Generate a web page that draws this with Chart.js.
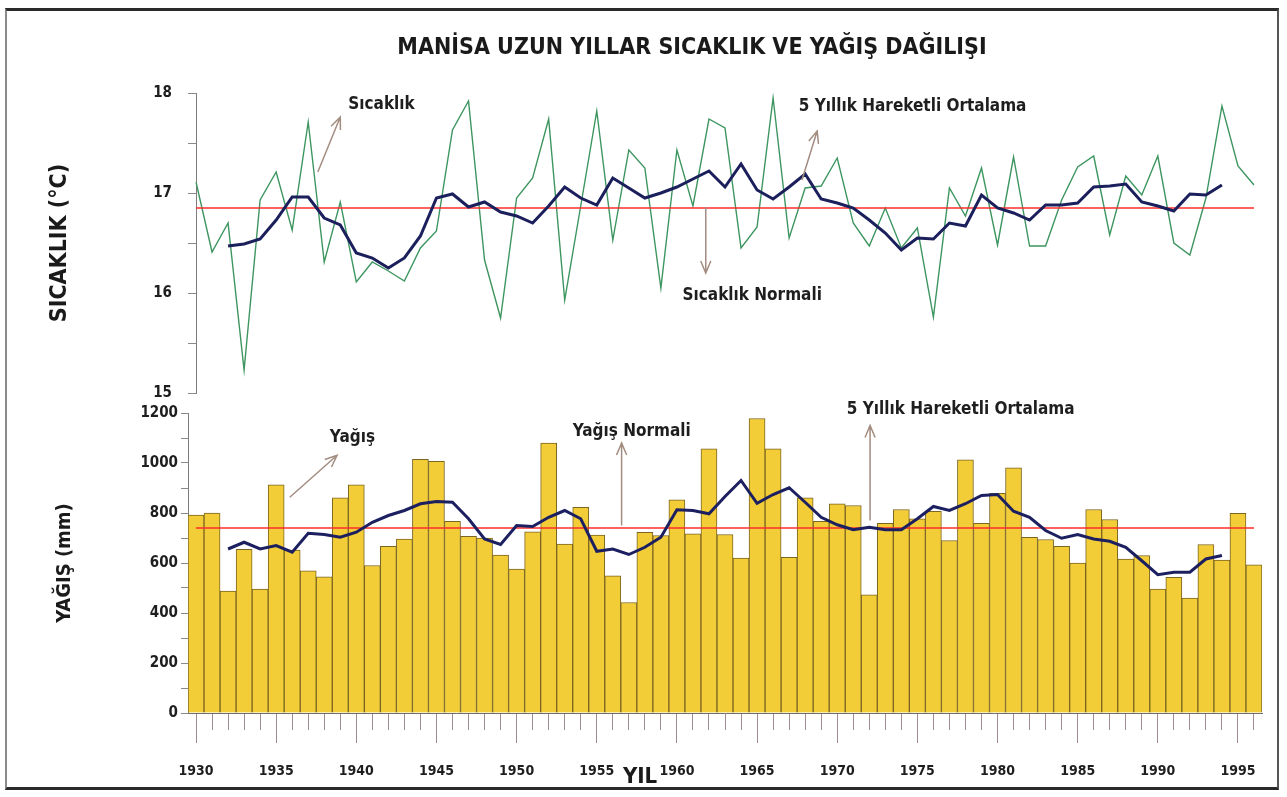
<!DOCTYPE html>
<html lang="tr">
<head>
<meta charset="utf-8">
<title>Manisa Uzun Yıllar Sıcaklık ve Yağış Dağılışı</title>
<script src="https://cdn.jsdelivr.net/npm/chart.js@4.4.1/dist/chart.umd.min.js"></script>
<style>
  html, body { margin: 0; padding: 0; background: #fff; }
  #page { position: relative; width: 1287px; height: 797px; overflow: hidden; }
  #frame {
    position: absolute; left: 5px; top: 8px; width: 1270px; height: 776px;
    border-top: 3px solid #2a2a2a; border-bottom: 3px solid #2a2a2a;
    border-left: 2px solid #8a8a8a; border-right: 2px solid #555;
  }
  canvas { position: absolute; left: 0; }
  #tempChart { top: 0; z-index: 2; }
  #rainChart { top: 400px; z-index: 1; }
</style>
</head>
<body>
<div id="page">
  <div id="frame"></div>
  <canvas id="tempChart" width="1287" height="418"></canvas>
  <canvas id="rainChart" width="1287" height="397"></canvas>
</div>
<script>
  const FONT = '"Liberation Sans Narrow", "DejaVu Sans Condensed", "Liberation Sans", Arial, sans-serif';

  // Years 1930 - 1996
  const years = Array.from({ length: 67 }, (_, i) => String(1930 + i));

  // Annual mean temperature (°C)
  const temperature = [
    17.11, 16.41, 16.70, 15.23, 16.93, 17.21, 16.63, 17.71, 16.31, 16.91,
    16.11, 16.31, 16.22, 16.12, 16.45, 16.62, 17.63, 17.92, 16.33, 15.75,
    16.95, 17.15, 17.74, 15.93, 16.87, 17.82, 16.53, 17.43, 17.25, 16.05,
    17.43, 16.87, 17.74, 17.65, 16.45, 16.66, 17.95, 16.55, 17.05, 17.07,
    17.35, 16.70, 16.47, 16.85, 16.45, 16.65, 15.76, 17.05, 16.77, 17.25,
    16.48, 17.36, 16.47, 16.47, 16.93, 17.26, 17.37, 16.58, 17.17, 16.98,
    17.37, 16.50, 16.38, 16.95, 17.87, 17.27, 17.08
  ];

  // 5-year moving average of temperature (1932 - 1994)
  const temperatureAvg5 = [
    null, null,
    16.47, 16.49, 16.54, 16.73, 16.96, 16.96, 16.75, 16.68,
    16.40, 16.35, 16.25, 16.35, 16.57, 16.95, 16.99, 16.86, 16.91, 16.81,
    16.77, 16.70, 16.87, 17.06, 16.95, 16.88, 17.15, 17.05, 16.95, 17.00,
    17.06, 17.14, 17.22, 17.06, 17.29, 17.03, 16.94, 17.06, 17.19, 16.94,
    16.90, 16.85, 16.73, 16.60, 16.43, 16.55, 16.54, 16.70, 16.67, 16.98,
    16.85, 16.80, 16.73, 16.88, 16.88, 16.90, 17.06, 17.07, 17.09, 16.91,
    16.87, 16.82, 16.99, 16.98, 17.08,
    null, null
  ];

  const temperatureNormal = 16.85;

  // Annual precipitation (mm)
  const rainfall = [
    792, 800, 488, 655, 496, 913, 652, 569, 545, 861,
    913, 590, 667, 696, 1015, 1007, 767, 707, 700, 632,
    576, 725, 1080, 676, 823, 712, 549, 442, 723, 710,
    853, 717, 1057, 714, 620, 1178, 1057, 623, 861, 767,
    837, 830, 473, 759, 814, 777, 807, 690, 1013, 759,
    879, 981, 703, 694, 667, 600, 814, 774, 616, 630,
    496, 543, 460, 674, 612, 799, 593
  ];

  // 5-year moving average of precipitation (1932 - 1994)
  const rainfallAvg5 = [
    null, null,
    656, 683, 656, 670, 643, 719, 714, 703,
    723, 763, 790, 810, 837, 846, 843, 777, 696, 674,
    750, 746, 783, 810, 777, 647, 656, 634, 663, 703,
    813, 810, 797, 866, 930, 839, 874, 901, 843, 783,
    753, 733, 743, 733, 733, 777, 826, 810, 837, 870,
    874, 807, 783, 730, 699, 714, 696, 687, 663, 609,
    553, 563, 563, 616, 630,
    null, null
  ];

  const rainfallNormal = 740;

  const tempTickLabels = [15, 16, 17, 18];
  const rainTickLabels = [0, 200, 400, 600, 800, 1000, 1200];
  const yearTickLabels = ['1930', '1935', '1940', '1945', '1950', '1955', '1960',
    '1965', '1970', '1975', '1980', '1985', '1990', '1995'];

  // Text labels with small arrows, placed in data units (year, value)
  const tempNotes = [
    { text: 'Sıcaklık', at: [1939.5, 17.88], from: [1937.6, 17.21], to: [1939.0, 17.76] },
    { text: '5 Yıllık Hareketli Ortalama', at: [1967.6, 17.86], from: [1967.8, 17.13], to: [1968.75, 17.62] },
    { text: 'Sıcaklık Normali', at: [1960.35, 15.97], from: [1961.8, 16.86], to: [1961.8, 16.2] }
  ];
  const rainNotes = [
    { text: 'Yağış', at: [1938.35, 1100], from: [1935.85, 863], to: [1938.8, 1031] },
    { text: 'Yağış Normali', at: [1953.5, 1124], from: [1956.55, 750], to: [1956.55, 1080] },
    { text: '5 Yıllık Hareketli Ortalama', at: [1970.6, 1212], from: [1972.05, 770], to: [1972.05, 1150] }
  ];

  function drawArrow(ctx, x1, y1, x2, y2) {
    const ang = Math.atan2(y2 - y1, x2 - x1);
    const head = 13;
    ctx.beginPath();
    ctx.moveTo(x1, y1);
    ctx.lineTo(x2, y2);
    ctx.moveTo(x2 - head * Math.cos(ang - 0.4), y2 - head * Math.sin(ang - 0.4));
    ctx.lineTo(x2, y2);
    ctx.lineTo(x2 - head * Math.cos(ang + 0.4), y2 - head * Math.sin(ang + 0.4));
    ctx.stroke();
  }

  const arrowNotes = {
    id: 'arrowNotes',
    afterDatasetsDraw(chart, args, opts) {
      const { ctx } = chart;
      const x = chart.scales.x;
      const y = chart.scales.y;
      const px = (yr) => x.getPixelForValue(yr - 1930);
      ctx.save();
      ctx.strokeStyle = '#a38d80';
      ctx.lineWidth = 1.5;
      ctx.fillStyle = '#1e1e1e';
      ctx.font = `bold 17px ${FONT}`;
      ctx.textBaseline = 'middle';
      opts.items.forEach((n) => {
        drawArrow(ctx, px(n.from[0]), y.getPixelForValue(n.from[1]), px(n.to[0]), y.getPixelForValue(n.to[1]));
        ctx.fillText(n.text, px(n.at[0]), y.getPixelForValue(n.at[1]));
      });
      ctx.restore();
    }
  };

  const headline = {
    id: 'headline',
    afterDraw(chart, args, opts) {
      const { ctx } = chart;
      ctx.save();
      ctx.fillStyle = '#1a1a1a';
      ctx.font = `bold 23px ${FONT}`;
      ctx.textAlign = 'center';
      ctx.textBaseline = 'middle';
      ctx.fillText(opts.text, opts.x, opts.y);
      ctx.restore();
    }
  };

  const axisWord = {
    id: 'axisWord',
    afterDraw(chart, args, opts) {
      const { ctx } = chart;
      const x = chart.scales.x;
      ctx.save();
      ctx.fillStyle = '#1a1a1a';
      ctx.font = `bold 22px ${FONT}`;
      ctx.textAlign = 'center';
      ctx.textBaseline = 'middle';
      ctx.fillText(opts.text, x.getPixelForValue(opts.at - 1930), x.bottom - 20);
      ctx.restore();
    }
  };

  // Temperature panel
  new Chart(document.getElementById('tempChart'), {
    type: 'line',
    data: {
      labels: years,
      datasets: [
        {
          label: '5 Yıllık Hareketli Ortalama',
          data: temperatureAvg5,
          borderColor: '#1b1f5c',
          borderWidth: 3,
          pointRadius: 0,
          order: 1
        },
        {
          label: 'Sıcaklık Normali',
          data: [{ x: '1930', y: temperatureNormal }, { x: '1996', y: temperatureNormal }],
          borderColor: '#ff2b2b',
          borderWidth: 1.6,
          pointRadius: 0,
          order: 2
        },
        {
          label: 'Sıcaklık',
          data: temperature,
          borderColor: '#3d9560',
          borderWidth: 1.4,
          pointRadius: 0,
          order: 3
        }
      ]
    },
    options: {
      responsive: false,
      animation: false,
      layout: { padding: { top: 93, right: 33, bottom: 7, left: 0 } },
      plugins: {
        legend: { display: false },
        tooltip: { enabled: false },
        headline: { text: 'MANİSA UZUN YILLAR SICAKLIK VE YAĞIŞ DAĞILIŞI', x: 692, y: 48 },
        arrowNotes: { items: tempNotes }
      },
      scales: {
        x: { display: false, offset: false },
        y: {
          min: 15,
          max: 18,
          afterFit: (scale) => { scale.width = 196; },
          border: { color: '#7d7d7d' },
          grid: { drawOnChartArea: false, tickLength: 8, tickColor: '#8a8a8a' },
          ticks: {
            stepSize: 0.5,
            padding: 16,
            color: '#1e1e1e',
            font: { family: FONT, size: 15, weight: 'bold' },
            callback: (v) => (tempTickLabels.includes(v) ? String(v) : '')
          },
          title: {
            display: true,
            text: 'SICAKLIK (°C)',
            color: '#1a1a1a',
            font: { family: FONT, size: 23, weight: 'bold' },
            padding: { top: 46, bottom: 0 }
          }
        }
      }
    },
    plugins: [headline, arrowNotes]
  });

  // Precipitation panel
  new Chart(document.getElementById('rainChart'), {
    type: 'bar',
    data: {
      labels: years,
      datasets: [
        {
          type: 'line',
          label: '5 Yıllık Hareketli Ortalama',
          data: rainfallAvg5,
          borderColor: '#1c2060',
          borderWidth: 3,
          pointRadius: 0,
          order: 1
        },
        {
          type: 'line',
          label: 'Yağış Normali',
          data: [{ x: '1930', y: rainfallNormal }, { x: '1996', y: rainfallNormal }],
          borderColor: '#ff2b2b',
          borderWidth: 1.6,
          pointRadius: 0,
          order: 2
        },
        {
          label: 'Yağış',
          data: rainfall,
          backgroundColor: '#f3cd38',
          borderColor: '#7a6521',
          borderWidth: 1,
          barPercentage: 1,
          categoryPercentage: 1,
          order: 3
        }
      ]
    },
    options: {
      responsive: false,
      animation: false,
      layout: { padding: { top: 13, right: 25, bottom: 0, left: 0 } },
      plugins: {
        legend: { display: false },
        tooltip: { enabled: false },
        arrowNotes: { items: rainNotes },
        axisWord: { text: 'YIL', at: 1957.7 }
      },
      scales: {
        x: {
          offset: true,
          afterFit: (scale) => { scale.height = 84; },
          border: { color: '#6d6d6d' },
          grid: {
            drawOnChartArea: false,
            offset: false,
            tickLength: 30,
            tickColor: '#a08c8c',
            tickBorderDash: (ctx) => (Number(years[ctx.index]) % 5 === 0 ? [] : [16, 60])
          },
          ticks: {
            autoSkip: false,
            maxRotation: 0,
            padding: 20,
            color: '#1e1e1e',
            font: { family: FONT, size: 14, weight: 'bold' },
            callback: (v, i) => (yearTickLabels.includes(years[i]) ? years[i] : '')
          }
        },
        y: {
          min: 0,
          max: 1200,
          afterFit: (scale) => { scale.width = 188; },
          border: { color: '#7d7d7d' },
          grid: { drawOnChartArea: false, tickLength: 7, tickColor: '#8a8a8a' },
          ticks: {
            stepSize: 100,
            padding: 3,
            color: '#1e1e1e',
            font: { family: FONT, size: 15, weight: 'bold' },
            callback: (v) => (rainTickLabels.includes(v) ? String(v) : '')
          },
          title: {
            display: true,
            text: 'YAĞIŞ (mm)',
            color: '#1a1a1a',
            font: { family: FONT, size: 20, weight: 'bold' },
            padding: { top: 53, bottom: 0 }
          }
        }
      }
    },
    plugins: [arrowNotes, axisWord]
  });
</script>
</body>
</html>
